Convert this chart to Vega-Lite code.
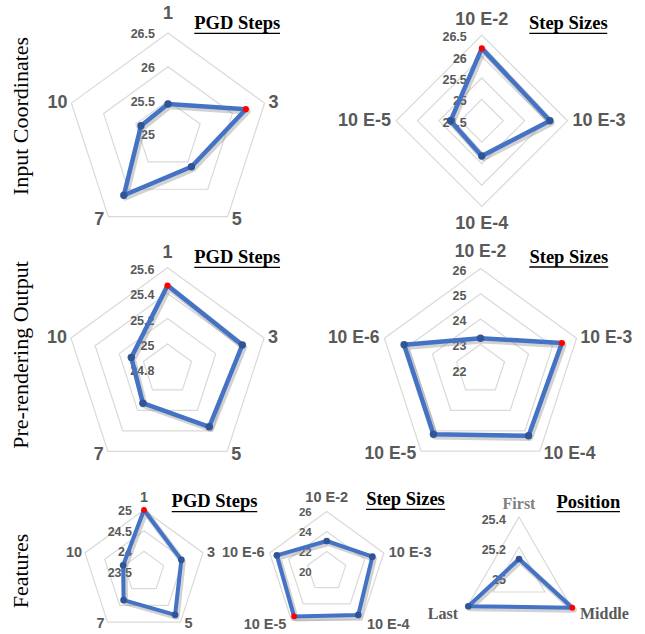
{
"$schema": "https://vega.github.io/schema/vega-lite/v6.json",
"padding": 0,
"background": "white",
"config": {"view": {"stroke": null}},
"columns": 3,
"spacing": {"row": 0, "column": 0},
"align": "each",
"bounds": "flush",
"datasets": {
 "radar": [
  {"chart": "ic_pgd", "axis": "1", "value": 25.45},
  {"chart": "ic_pgd", "axis": "3", "value": 26.21},
  {"chart": "ic_pgd", "axis": "5", "value": 25.59},
  {"chart": "ic_pgd", "axis": "7", "value": 26.11},
  {"chart": "ic_pgd", "axis": "10", "value": 25.42},
  {"chart": "ic_step", "axis": "10 E-2", "value": 26.19},
  {"chart": "ic_step", "axis": "10 E-3", "value": 26.09},
  {"chart": "ic_step", "axis": "10 E-4", "value": 25.32},
  {"chart": "ic_step", "axis": "10 E-5", "value": 25.23},
  {"chart": "pr_pgd", "axis": "1", "value": 25.46},
  {"chart": "pr_pgd", "axis": "3", "value": 25.42},
  {"chart": "pr_pgd", "axis": "5", "value": 25.36},
  {"chart": "pr_pgd", "axis": "7", "value": 25.13},
  {"chart": "pr_pgd", "axis": "10", "value": 25.10},
  {"chart": "pr_step", "axis": "10 E-2", "value": 23.24},
  {"chart": "pr_step", "axis": "10 E-3", "value": 25.39},
  {"chart": "pr_step", "axis": "10 E-4", "value": 25.24},
  {"chart": "pr_step", "axis": "10 E-5", "value": 25.17},
  {"chart": "pr_step", "axis": "10 E-6", "value": 25.18},
  {"chart": "ft_pgd", "axis": "1", "value": 25.0},
  {"chart": "ft_pgd", "axis": "3", "value": 24.45},
  {"chart": "ft_pgd", "axis": "5", "value": 24.78},
  {"chart": "ft_pgd", "axis": "7", "value": 24.34},
  {"chart": "ft_pgd", "axis": "10", "value": 24.03},
  {"chart": "ft_step", "axis": "10 E-2", "value": 23.05},
  {"chart": "ft_step", "axis": "10 E-3", "value": 24.8},
  {"chart": "ft_step", "axis": "10 E-4", "value": 25.37},
  {"chart": "ft_step", "axis": "10 E-5", "value": 25.55},
  {"chart": "ft_step", "axis": "10 E-6", "value": 25.24},
  {"chart": "ft_pos", "axis": "First", "value": 25.12},
  {"chart": "ft_pos", "axis": "Middle", "value": 25.41},
  {"chart": "ft_pos", "axis": "Last", "value": 25.39}
 ]
},
"concat": [
 {
  "width": 230, "height": 230,
  "data": {"name": "radar"},
  "transform": [
   {"filter": "datum.chart == 'ic_pgd'"},
   {"window": [{"op": "row_number", "as": "k"}]},
   {"joinaggregate": [{"op": "max", "field": "value", "as": "vmax"}]},
   {"calculate": "2*PI*(datum.k-1)/5", "as": "a"},
   {"calculate": "(datum.value-25)/1.5*sin(datum.a)", "as": "x"},
   {"calculate": "(datum.value-25)/1.5*cos(datum.a)", "as": "y"}
  ],
  "encoding": {
   "x": {"field": "x", "type": "quantitative", "axis": null, "scale": {"domain": [-1.6552, 0.6108], "nice": false, "zero": false}},
   "y": {"field": "y", "type": "quantitative", "axis": null, "scale": {"domain": [-0.9409, 1.3251], "nice": false, "zero": false}}
  },
  "layer": [
   {"transform": [{"calculate": "[25.5,26,26.5]", "as": "lv"}, {"flatten": ["lv"]}, {"calculate": "(datum.lv-25)/1.5*sin(datum.a)", "as": "x"}, {"calculate": "(datum.lv-25)/1.5*cos(datum.a)", "as": "y"}],
    "mark": {"type": "line", "interpolate": "linear-closed", "color": "#d9d9d9", "strokeWidth": 1.2},
    "encoding": {"detail": {"field": "lv", "type": "nominal"}, "order": {"field": "k", "type": "quantitative"}}},
   {"transform": [{"filter": "datum.k == 1"}, {"calculate": "[25,25.5,26,26.5]", "as": "t"}, {"flatten": ["t"]}, {"calculate": "0", "as": "x"}, {"calculate": "(datum.t-25)/1.5", "as": "y"}],
    "mark": {"type": "text", "align": "right", "baseline": "middle", "dx": -13, "dy": 1, "font": "Liberation Sans", "fontWeight": "bold", "fontSize": 12.5, "color": "#595959"},
    "encoding": {"text": {"field": "t", "type": "quantitative"}}},
   {"mark": {"type": "line", "interpolate": "linear-closed", "color": "#7f7f7f", "opacity": 0.35, "strokeWidth": 6.5, "xOffset": 1.5, "yOffset": 2, "strokeJoin": "round"},
    "encoding": {"order": {"field": "k", "type": "quantitative"}}},
   {"mark": {"type": "line", "interpolate": "linear-closed", "color": "#4472c4", "strokeWidth": 4.5, "strokeJoin": "round"},
    "encoding": {"order": {"field": "k", "type": "quantitative"}}},
   {"mark": {"type": "circle", "opacity": 1},
    "encoding": {"color": {"condition": {"test": "datum.value == datum.vmax", "value": "#ff0000"}, "value": "#2f5597"}, "size": {"condition": {"test": "datum.value == datum.vmax", "value": 38}, "value": 55}}},
   {"transform": [{"filter": "sin(datum.a) > 0.01"}, {"calculate": "sin(datum.a)", "as": "x"}, {"calculate": "cos(datum.a) - (cos(datum.a) < -0.1 ? 0.0296 : 0)", "as": "y"}],
    "mark": {"type": "text", "align": "left", "baseline": "middle", "dx": 4, "font": "Liberation Sans", "fontWeight": "bold", "fontSize": 18, "color": "#595959"},
    "encoding": {"text": {"field": "axis", "type": "nominal"}}},
   {"transform": [{"filter": "sin(datum.a) < -0.01"}, {"calculate": "sin(datum.a)", "as": "x"}, {"calculate": "cos(datum.a) - (cos(datum.a) < -0.1 ? 0.0296 : 0)", "as": "y"}],
    "mark": {"type": "text", "align": "right", "baseline": "middle", "dx": -4, "font": "Liberation Sans", "fontWeight": "bold", "fontSize": 18, "color": "#595959"},
    "encoding": {"text": {"field": "axis", "type": "nominal"}}},
   {"transform": [{"filter": "cos(datum.a) > 0.99"}, {"calculate": "0", "as": "x"}, {"calculate": "1", "as": "y"}],
    "mark": {"type": "text", "align": "center", "baseline": "alphabetic", "dy": -14, "font": "Liberation Sans", "fontWeight": "bold", "fontSize": 18, "color": "#595959"},
    "encoding": {"text": {"field": "axis", "type": "nominal"}}},
   {"transform": [{"filter": "datum.k == 1"}],
    "mark": {"type": "text", "text": "PGD Steps", "align": "center", "baseline": "alphabetic", "font": "Liberation Serif", "fontWeight": "bold", "fontSize": 18.5, "color": "#000000"},
    "encoding": {"x": {"datum": 0.682, "type": "quantitative"}, "y": {"datum": 1.036, "type": "quantitative"}}},
   {"transform": [{"filter": "datum.k == 1"}],
    "mark": {"type": "rule", "color": "#000000", "strokeWidth": 1.3},
    "encoding": {"x": {"datum": 0.259, "type": "quantitative"}, "x2": {"datum": 1.103}, "y": {"datum": 0.997, "type": "quantitative"}}},
   {"transform": [{"filter": "datum.k == 1"}],
    "mark": {"type": "text", "text": "Input Coordinates", "angle": 270, "align": "center", "baseline": "alphabetic", "font": "Liberation Serif", "fontSize": 22, "color": "#000000"},
    "encoding": {"x": {"datum": -1.379, "type": "quantitative"}, "y": {"datum": 0.182, "type": "quantitative"}}}
  ]
 },
 {
  "width": 190, "height": 230,
  "data": {"name": "radar"},
  "transform": [
   {"filter": "datum.chart == 'ic_step'"},
   {"window": [{"op": "row_number", "as": "k"}]},
   {"joinaggregate": [{"op": "max", "field": "value", "as": "vmax"}]},
   {"calculate": "2*PI*(datum.k-1)/4", "as": "a"},
   {"calculate": "(datum.value-24.5)/2*sin(datum.a)", "as": "x"},
   {"calculate": "(datum.value-24.5)/2*cos(datum.a)", "as": "y"}
  ],
  "encoding": {
   "x": {"field": "x", "type": "quantitative", "axis": null, "scale": {"domain": [-2.9382, -0.7211], "nice": false, "zero": false}},
   "y": {"field": "y", "type": "quantitative", "axis": null, "scale": {"domain": [-1.2742, 1.4096], "nice": false, "zero": false}}
  },
  "layer": [
   {"transform": [{"calculate": "[25,25.5,26,26.5]", "as": "lv"}, {"flatten": ["lv"]}, {"calculate": "(datum.lv-24.5)/2*sin(datum.a)", "as": "x"}, {"calculate": "(datum.lv-24.5)/2*cos(datum.a)", "as": "y"}],
    "mark": {"type": "line", "interpolate": "linear-closed", "color": "#d9d9d9", "strokeWidth": 1.2},
    "encoding": {"detail": {"field": "lv", "type": "nominal"}, "order": {"field": "k", "type": "quantitative"}}},
   {"transform": [{"filter": "datum.k == 1"}, {"calculate": "[24.5,25,25.5,26,26.5]", "as": "t"}, {"flatten": ["t"]}, {"calculate": "0", "as": "x"}, {"calculate": "(datum.t-24.5)/2", "as": "y"}],
    "mark": {"type": "text", "align": "right", "baseline": "middle", "dx": -15, "dy": 2, "font": "Liberation Sans", "fontWeight": "bold", "fontSize": 12.5, "color": "#595959"},
    "encoding": {"text": {"field": "t", "type": "quantitative"}}},
   {"mark": {"type": "line", "interpolate": "linear-closed", "color": "#7f7f7f", "opacity": 0.35, "strokeWidth": 6.5, "xOffset": 1.5, "yOffset": 2, "strokeJoin": "round"},
    "encoding": {"order": {"field": "k", "type": "quantitative"}}},
   {"mark": {"type": "line", "interpolate": "linear-closed", "color": "#4472c4", "strokeWidth": 4.5, "strokeJoin": "round"},
    "encoding": {"order": {"field": "k", "type": "quantitative"}}},
   {"mark": {"type": "circle", "opacity": 1},
    "encoding": {"color": {"condition": {"test": "datum.value == datum.vmax", "value": "#ff0000"}, "value": "#2f5597"}, "size": {"condition": {"test": "datum.value == datum.vmax", "value": 38}, "value": 55}}},
   {"transform": [{"filter": "sin(datum.a) > 0.01"}, {"calculate": "sin(datum.a)", "as": "x"}, {"calculate": "cos(datum.a)", "as": "y"}],
    "mark": {"type": "text", "align": "left", "baseline": "middle", "dx": 5, "font": "Liberation Sans", "fontWeight": "bold", "fontSize": 18, "color": "#595959"},
    "encoding": {"text": {"field": "axis", "type": "nominal"}}},
   {"transform": [{"filter": "sin(datum.a) < -0.01"}, {"calculate": "sin(datum.a)", "as": "x"}, {"calculate": "cos(datum.a)", "as": "y"}],
    "mark": {"type": "text", "align": "right", "baseline": "middle", "dx": -5, "font": "Liberation Sans", "fontWeight": "bold", "fontSize": 18, "color": "#595959"},
    "encoding": {"text": {"field": "axis", "type": "nominal"}}},
   {"transform": [{"filter": "cos(datum.a) > 0.99"}, {"calculate": "0", "as": "x"}, {"calculate": "1", "as": "y"}],
    "mark": {"type": "text", "align": "center", "baseline": "alphabetic", "dy": -10, "font": "Liberation Sans", "fontWeight": "bold", "fontSize": 18, "color": "#595959"},
    "encoding": {"text": {"field": "axis", "type": "nominal"}}},
   {"transform": [{"filter": "cos(datum.a) < -0.99"}, {"calculate": "0", "as": "x"}, {"calculate": "-1", "as": "y"}],
    "mark": {"type": "text", "align": "center", "baseline": "top", "dy": 8, "font": "Liberation Sans", "fontWeight": "bold", "fontSize": 18, "color": "#595959"},
    "encoding": {"text": {"field": "axis", "type": "nominal"}}},
   {"transform": [{"filter": "datum.k == 1"}],
    "mark": {"type": "text", "text": "Step Sizes", "align": "center", "baseline": "alphabetic", "font": "Liberation Serif", "fontWeight": "bold", "fontSize": 18.5, "color": "#000000"},
    "encoding": {"x": {"datum": 1.009, "type": "quantitative"}, "y": {"datum": 1.068, "type": "quantitative"}}},
   {"transform": [{"filter": "datum.k == 1"}],
    "mark": {"type": "rule", "color": "#000000", "strokeWidth": 1.3},
    "encoding": {"x": {"datum": 0.554, "type": "quantitative"}, "x2": {"datum": 1.464}, "y": {"datum": 1.021, "type": "quantitative"}}}
  ]
 },
 {"width": 225, "height": 230, "data": {"values": [{}]}, "mark": {"type": "point", "opacity": 0}},
 {
  "width": 230, "height": 230,
  "data": {"name": "radar"},
  "transform": [
   {"filter": "datum.chart == 'pr_pgd'"},
   {"window": [{"op": "row_number", "as": "k"}]},
   {"joinaggregate": [{"op": "max", "field": "value", "as": "vmax"}]},
   {"calculate": "2*PI*(datum.k-1)/5", "as": "a"},
   {"calculate": "(datum.value-24.8)/0.8*sin(datum.a)", "as": "x"},
   {"calculate": "(datum.value-24.8)/0.8*cos(datum.a)", "as": "y"}
  ],
  "encoding": {
   "x": {"field": "x", "type": "quantitative", "axis": null, "scale": {"domain": [-1.6502, 0.6158], "nice": false, "zero": false}},
   "y": {"field": "y", "type": "quantitative", "axis": null, "scale": {"domain": [-0.8936, 1.3724], "nice": false, "zero": false}}
  },
  "layer": [
   {"transform": [{"calculate": "[25,25.2,25.4,25.6]", "as": "lv"}, {"flatten": ["lv"]}, {"calculate": "(datum.lv-24.8)/0.8*sin(datum.a)", "as": "x"}, {"calculate": "(datum.lv-24.8)/0.8*cos(datum.a)", "as": "y"}],
    "mark": {"type": "line", "interpolate": "linear-closed", "color": "#d9d9d9", "strokeWidth": 1.2},
    "encoding": {"detail": {"field": "lv", "type": "nominal"}, "order": {"field": "k", "type": "quantitative"}}},
   {"transform": [{"filter": "datum.k == 1"}, {"calculate": "[24.8,25,25.2,25.4,25.6]", "as": "t"}, {"flatten": ["t"]}, {"calculate": "0", "as": "x"}, {"calculate": "(datum.t-24.8)/0.8", "as": "y"}],
    "mark": {"type": "text", "align": "right", "baseline": "middle", "dx": -13, "dy": 2, "font": "Liberation Sans", "fontWeight": "bold", "fontSize": 12.5, "color": "#595959"},
    "encoding": {"text": {"field": "t", "type": "quantitative"}}},
   {"mark": {"type": "line", "interpolate": "linear-closed", "color": "#7f7f7f", "opacity": 0.35, "strokeWidth": 6.5, "xOffset": 1.5, "yOffset": 2, "strokeJoin": "round"},
    "encoding": {"order": {"field": "k", "type": "quantitative"}}},
   {"mark": {"type": "line", "interpolate": "linear-closed", "color": "#4472c4", "strokeWidth": 4.5, "strokeJoin": "round"},
    "encoding": {"order": {"field": "k", "type": "quantitative"}}},
   {"mark": {"type": "circle", "opacity": 1},
    "encoding": {"color": {"condition": {"test": "datum.value == datum.vmax", "value": "#ff0000"}, "value": "#2f5597"}, "size": {"condition": {"test": "datum.value == datum.vmax", "value": 38}, "value": 55}}},
   {"transform": [{"filter": "sin(datum.a) > 0.01"}, {"calculate": "sin(datum.a)", "as": "x"}, {"calculate": "cos(datum.a) - (cos(datum.a) < -0.1 ? 0.0355 : 0)", "as": "y"}],
    "mark": {"type": "text", "align": "left", "baseline": "middle", "dx": 4, "font": "Liberation Sans", "fontWeight": "bold", "fontSize": 18, "color": "#595959"},
    "encoding": {"text": {"field": "axis", "type": "nominal"}}},
   {"transform": [{"filter": "sin(datum.a) < -0.01"}, {"calculate": "sin(datum.a)", "as": "x"}, {"calculate": "cos(datum.a) - (cos(datum.a) < -0.1 ? 0.0355 : 0)", "as": "y"}],
    "mark": {"type": "text", "align": "right", "baseline": "middle", "dx": -4, "font": "Liberation Sans", "fontWeight": "bold", "fontSize": 18, "color": "#595959"},
    "encoding": {"text": {"field": "axis", "type": "nominal"}}},
   {"transform": [{"filter": "cos(datum.a) > 0.99"}, {"calculate": "0", "as": "x"}, {"calculate": "1", "as": "y"}],
    "mark": {"type": "text", "align": "center", "baseline": "alphabetic", "dy": -9.5, "font": "Liberation Sans", "fontWeight": "bold", "fontSize": 18, "color": "#595959"},
    "encoding": {"text": {"field": "axis", "type": "nominal"}}},
   {"transform": [{"filter": "datum.k == 1"}],
    "mark": {"type": "text", "text": "PGD Steps", "align": "center", "baseline": "alphabetic", "font": "Liberation Serif", "fontWeight": "bold", "fontSize": 18.5, "color": "#000000"},
    "encoding": {"x": {"datum": 0.687, "type": "quantitative"}, "y": {"datum": 1.044, "type": "quantitative"}}},
   {"transform": [{"filter": "datum.k == 1"}],
    "mark": {"type": "rule", "color": "#000000", "strokeWidth": 1.3},
    "encoding": {"x": {"datum": 0.264, "type": "quantitative"}, "x2": {"datum": 1.108}, "y": {"datum": 1.005, "type": "quantitative"}}},
   {"transform": [{"filter": "datum.k == 1"}],
    "mark": {"type": "text", "text": "Pre-rendering Output", "angle": 270, "align": "center", "baseline": "alphabetic", "font": "Liberation Serif", "fontSize": 22, "color": "#000000"},
    "encoding": {"x": {"datum": -1.374, "type": "quantitative"}, "y": {"datum": 0.141, "type": "quantitative"}}}
  ]
 },
 {
  "width": 190, "height": 230,
  "data": {"name": "radar"},
  "transform": [
   {"filter": "datum.chart == 'pr_step'"},
   {"window": [{"op": "row_number", "as": "k"}]},
   {"joinaggregate": [{"op": "max", "field": "value", "as": "vmax"}]},
   {"calculate": "2*PI*(datum.k-1)/5", "as": "a"},
   {"calculate": "(datum.value-22)/4*sin(datum.a)", "as": "x"},
   {"calculate": "(datum.value-22)/4*cos(datum.a)", "as": "y"}
  ],
  "encoding": {
   "x": {"field": "x", "type": "quantitative", "axis": null, "scale": {"domain": [-2.4802, -0.599], "nice": false, "zero": false}},
   "y": {"field": "y", "type": "quantitative", "axis": null, "scale": {"domain": [-0.896, 1.3812], "nice": false, "zero": false}}
  },
  "layer": [
   {"transform": [{"calculate": "[23,24,25,26]", "as": "lv"}, {"flatten": ["lv"]}, {"calculate": "(datum.lv-22)/4*sin(datum.a)", "as": "x"}, {"calculate": "(datum.lv-22)/4*cos(datum.a)", "as": "y"}],
    "mark": {"type": "line", "interpolate": "linear-closed", "color": "#d9d9d9", "strokeWidth": 1.2},
    "encoding": {"detail": {"field": "lv", "type": "nominal"}, "order": {"field": "k", "type": "quantitative"}}},
   {"transform": [{"filter": "datum.k == 1"}, {"calculate": "[22,23,24,25,26]", "as": "t"}, {"flatten": ["t"]}, {"calculate": "0", "as": "x"}, {"calculate": "(datum.t-22)/4", "as": "y"}],
    "mark": {"type": "text", "align": "right", "baseline": "middle", "dx": -14, "dy": 2, "font": "Liberation Sans", "fontWeight": "bold", "fontSize": 12.5, "color": "#595959"},
    "encoding": {"text": {"field": "t", "type": "quantitative"}}},
   {"mark": {"type": "line", "interpolate": "linear-closed", "color": "#7f7f7f", "opacity": 0.35, "strokeWidth": 6.5, "xOffset": 1.5, "yOffset": 2, "strokeJoin": "round"},
    "encoding": {"order": {"field": "k", "type": "quantitative"}}},
   {"mark": {"type": "line", "interpolate": "linear-closed", "color": "#4472c4", "strokeWidth": 4.5, "strokeJoin": "round"},
    "encoding": {"order": {"field": "k", "type": "quantitative"}}},
   {"mark": {"type": "circle", "opacity": 1},
    "encoding": {"color": {"condition": {"test": "datum.value == datum.vmax", "value": "#ff0000"}, "value": "#2f5597"}, "size": {"condition": {"test": "datum.value == datum.vmax", "value": 38}, "value": 55}}},
   {"transform": [{"filter": "sin(datum.a) > 0.01"}, {"calculate": "sin(datum.a)", "as": "x"}, {"calculate": "cos(datum.a) - (cos(datum.a) < -0.1 ? 0.0297 : 0)", "as": "y"}],
    "mark": {"type": "text", "align": "left", "baseline": "middle", "dx": 4, "font": "Liberation Sans", "fontWeight": "bold", "fontSize": 17.5, "color": "#595959"},
    "encoding": {"text": {"field": "axis", "type": "nominal"}}},
   {"transform": [{"filter": "sin(datum.a) < -0.01"}, {"calculate": "sin(datum.a)", "as": "x"}, {"calculate": "cos(datum.a) - (cos(datum.a) < -0.1 ? 0.0297 : 0)", "as": "y"}],
    "mark": {"type": "text", "align": "right", "baseline": "middle", "dx": -5, "font": "Liberation Sans", "fontWeight": "bold", "fontSize": 17.5, "color": "#595959"},
    "encoding": {"text": {"field": "axis", "type": "nominal"}}},
   {"transform": [{"filter": "cos(datum.a) > 0.99"}, {"calculate": "0", "as": "x"}, {"calculate": "1", "as": "y"}],
    "mark": {"type": "text", "align": "center", "baseline": "alphabetic", "dy": -12, "font": "Liberation Sans", "fontWeight": "bold", "fontSize": 17.5, "color": "#595959"},
    "encoding": {"text": {"field": "axis", "type": "nominal"}}},
   {"transform": [{"filter": "datum.k == 1"}],
    "mark": {"type": "text", "text": "Step Sizes", "align": "center", "baseline": "alphabetic", "font": "Liberation Serif", "fontWeight": "bold", "fontSize": 18.5, "color": "#000000"},
    "encoding": {"x": {"datum": 0.874, "type": "quantitative"}, "y": {"datum": 1.051, "type": "quantitative"}}},
   {"transform": [{"filter": "datum.k == 1"}],
    "mark": {"type": "rule", "color": "#000000", "strokeWidth": 1.3},
    "encoding": {"x": {"datum": 0.483, "type": "quantitative"}, "x2": {"datum": 1.265}, "y": {"datum": 1.015, "type": "quantitative"}}}
  ]
 },
 {"width": 225, "height": 230, "data": {"values": [{}]}, "mark": {"type": "point", "opacity": 0}},
 {
  "width": 230, "height": 174,
  "data": {"name": "radar"},
  "transform": [
   {"filter": "datum.chart == 'ft_pgd'"},
   {"window": [{"op": "row_number", "as": "k"}]},
   {"joinaggregate": [{"op": "max", "field": "value", "as": "vmax"}]},
   {"calculate": "2*PI*(datum.k-1)/5", "as": "a"},
   {"calculate": "(datum.value-23.5)/1.5*sin(datum.a)", "as": "x"},
   {"calculate": "(datum.value-23.5)/1.5*cos(datum.a)", "as": "y"}
  ],
  "encoding": {
   "x": {"field": "x", "type": "quantitative", "axis": null, "scale": {"domain": [-2.3226, 1.3871], "nice": false, "zero": false}},
   "y": {"field": "y", "type": "quantitative", "axis": null, "scale": {"domain": [-1.0, 1.8065], "nice": false, "zero": false}}
  },
  "layer": [
   {"transform": [{"calculate": "[24,24.5,25]", "as": "lv"}, {"flatten": ["lv"]}, {"calculate": "(datum.lv-23.5)/1.5*sin(datum.a)", "as": "x"}, {"calculate": "(datum.lv-23.5)/1.5*cos(datum.a)", "as": "y"}],
    "mark": {"type": "line", "interpolate": "linear-closed", "color": "#d9d9d9", "strokeWidth": 1.2},
    "encoding": {"detail": {"field": "lv", "type": "nominal"}, "order": {"field": "k", "type": "quantitative"}}},
   {"transform": [{"filter": "datum.k == 1"}, {"calculate": "[23.5,24,24.5,25]", "as": "t"}, {"flatten": ["t"]}, {"calculate": "0", "as": "x"}, {"calculate": "(datum.t-23.5)/1.5", "as": "y"}],
    "mark": {"type": "text", "align": "right", "baseline": "middle", "dx": -12, "dy": 1, "font": "Liberation Sans", "fontWeight": "bold", "fontSize": 12.5, "color": "#595959"},
    "encoding": {"text": {"field": "t", "type": "quantitative"}}},
   {"mark": {"type": "line", "interpolate": "linear-closed", "color": "#7f7f7f", "opacity": 0.35, "strokeWidth": 6, "xOffset": 1.5, "yOffset": 2, "strokeJoin": "round"},
    "encoding": {"order": {"field": "k", "type": "quantitative"}}},
   {"mark": {"type": "line", "interpolate": "linear-closed", "color": "#4472c4", "strokeWidth": 4, "strokeJoin": "round"},
    "encoding": {"order": {"field": "k", "type": "quantitative"}}},
   {"mark": {"type": "circle", "opacity": 1},
    "encoding": {"color": {"condition": {"test": "datum.value == datum.vmax", "value": "#ff0000"}, "value": "#2f5597"}, "size": {"condition": {"test": "datum.value == datum.vmax", "value": 34}, "value": 45}}},
   {"transform": [{"filter": "sin(datum.a) > 0.01"}, {"calculate": "sin(datum.a)", "as": "x"}, {"calculate": "cos(datum.a) - (cos(datum.a) < -0.1 ? 0.032 : 0)", "as": "y"}],
    "mark": {"type": "text", "align": "left", "baseline": "middle", "dx": 4, "font": "Liberation Sans", "fontWeight": "bold", "fontSize": 14.5, "color": "#595959"},
    "encoding": {"text": {"field": "axis", "type": "nominal"}}},
   {"transform": [{"filter": "sin(datum.a) < -0.01"}, {"calculate": "sin(datum.a)", "as": "x"}, {"calculate": "cos(datum.a) - (cos(datum.a) < -0.1 ? 0.032 : 0)", "as": "y"}],
    "mark": {"type": "text", "align": "right", "baseline": "middle", "dx": -3, "font": "Liberation Sans", "fontWeight": "bold", "fontSize": 14.5, "color": "#595959"},
    "encoding": {"text": {"field": "axis", "type": "nominal"}}},
   {"transform": [{"filter": "cos(datum.a) > 0.99"}, {"calculate": "0", "as": "x"}, {"calculate": "1", "as": "y"}],
    "mark": {"type": "text", "align": "center", "baseline": "alphabetic", "dy": -8, "font": "Liberation Sans", "fontWeight": "bold", "fontSize": 14.5, "color": "#595959"},
    "encoding": {"text": {"field": "axis", "type": "nominal"}}},
   {"transform": [{"filter": "datum.k == 1"}],
    "mark": {"type": "text", "text": "PGD Steps", "align": "center", "baseline": "alphabetic", "font": "Liberation Serif", "fontWeight": "bold", "fontSize": 18.5, "color": "#000000"},
    "encoding": {"x": {"datum": 1.137, "type": "quantitative"}, "y": {"datum": 1.044, "type": "quantitative"}}},
   {"transform": [{"filter": "datum.k == 1"}],
    "mark": {"type": "rule", "color": "#000000", "strokeWidth": 1.3},
    "encoding": {"x": {"datum": 0.447, "type": "quantitative"}, "x2": {"datum": 1.827}, "y": {"datum": 0.973, "type": "quantitative"}}},
   {"transform": [{"filter": "datum.k == 1"}],
    "mark": {"type": "text", "text": "Features", "angle": 270, "align": "center", "baseline": "alphabetic", "font": "Liberation Serif", "fontSize": 22, "color": "#000000"},
    "encoding": {"x": {"datum": -1.871, "type": "quantitative"}, "y": {"datum": 0.016, "type": "quantitative"}}}
  ]
 },
 {
  "width": 190, "height": 174,
  "data": {"name": "radar"},
  "transform": [
   {"filter": "datum.chart == 'ft_step'"},
   {"window": [{"op": "row_number", "as": "k"}]},
   {"joinaggregate": [{"op": "max", "field": "value", "as": "vmax"}]},
   {"calculate": "2*PI*(datum.k-1)/5", "as": "a"},
   {"calculate": "(datum.value-20)/6*sin(datum.a)", "as": "x"},
   {"calculate": "(datum.value-20)/6*cos(datum.a)", "as": "y"}
  ],
  "encoding": {
   "x": {"field": "x", "type": "quantitative", "axis": null, "scale": {"domain": [-1.6117, 1.555], "nice": false, "zero": false}},
   "y": {"field": "y", "type": "quantitative", "axis": null, "scale": {"domain": [-1.0417, 1.8583], "nice": false, "zero": false}}
  },
  "layer": [
   {"transform": [{"calculate": "[22,24,26]", "as": "lv"}, {"flatten": ["lv"]}, {"calculate": "(datum.lv-20)/6*sin(datum.a)", "as": "x"}, {"calculate": "(datum.lv-20)/6*cos(datum.a)", "as": "y"}],
    "mark": {"type": "line", "interpolate": "linear-closed", "color": "#d9d9d9", "strokeWidth": 1.2},
    "encoding": {"detail": {"field": "lv", "type": "nominal"}, "order": {"field": "k", "type": "quantitative"}}},
   {"transform": [{"filter": "datum.k == 1"}, {"calculate": "[20,22,24,26]", "as": "t"}, {"flatten": ["t"]}, {"calculate": "0", "as": "x"}, {"calculate": "(datum.t-20)/6", "as": "y"}],
    "mark": {"type": "text", "align": "right", "baseline": "middle", "dx": -15, "dy": 2, "font": "Liberation Sans", "fontWeight": "bold", "fontSize": 11.5, "color": "#595959"},
    "encoding": {"text": {"field": "t", "type": "quantitative"}}},
   {"mark": {"type": "line", "interpolate": "linear-closed", "color": "#7f7f7f", "opacity": 0.35, "strokeWidth": 6, "xOffset": 1.5, "yOffset": 2, "strokeJoin": "round"},
    "encoding": {"order": {"field": "k", "type": "quantitative"}}},
   {"mark": {"type": "line", "interpolate": "linear-closed", "color": "#4472c4", "strokeWidth": 4, "strokeJoin": "round"},
    "encoding": {"order": {"field": "k", "type": "quantitative"}}},
   {"mark": {"type": "circle", "opacity": 1},
    "encoding": {"color": {"condition": {"test": "datum.value == datum.vmax", "value": "#ff0000"}, "value": "#2f5597"}, "size": {"condition": {"test": "datum.value == datum.vmax", "value": 34}, "value": 45}}},
   {"transform": [{"filter": "sin(datum.a) > 0.01"}, {"calculate": "sin(datum.a)", "as": "x"}, {"calculate": "cos(datum.a) - (cos(datum.a) < -0.1 ? 0.083 : 0)", "as": "y"}],
    "mark": {"type": "text", "align": "left", "baseline": "middle", "dx": 5, "font": "Liberation Sans", "fontWeight": "bold", "fontSize": 14.5, "color": "#595959"},
    "encoding": {"text": {"field": "axis", "type": "nominal"}}},
   {"transform": [{"filter": "sin(datum.a) < -0.01"}, {"calculate": "sin(datum.a)", "as": "x"}, {"calculate": "cos(datum.a) - (cos(datum.a) < -0.1 ? 0.083 : 0)", "as": "y"}],
    "mark": {"type": "text", "align": "right", "baseline": "middle", "dx": -5, "font": "Liberation Sans", "fontWeight": "bold", "fontSize": 14.5, "color": "#595959"},
    "encoding": {"text": {"field": "axis", "type": "nominal"}}},
   {"transform": [{"filter": "cos(datum.a) > 0.99"}, {"calculate": "0", "as": "x"}, {"calculate": "1", "as": "y"}],
    "mark": {"type": "text", "align": "center", "baseline": "alphabetic", "dy": -9, "font": "Liberation Sans", "fontWeight": "bold", "fontSize": 14.5, "color": "#595959"},
    "encoding": {"text": {"field": "axis", "type": "nominal"}}},
   {"transform": [{"filter": "datum.k == 1"}],
    "mark": {"type": "text", "text": "Step Sizes", "align": "center", "baseline": "alphabetic", "font": "Liberation Serif", "fontWeight": "bold", "fontSize": 18.5, "color": "#000000"},
    "encoding": {"x": {"datum": 1.313, "type": "quantitative"}, "y": {"datum": 1.108, "type": "quantitative"}}},
   {"transform": [{"filter": "datum.k == 1"}],
    "mark": {"type": "rule", "color": "#000000", "strokeWidth": 1.3},
    "encoding": {"x": {"datum": 0.655, "type": "quantitative"}, "x2": {"datum": 1.972}, "y": {"datum": 1.037, "type": "quantitative"}}}
  ]
 },
 {
  "width": 225, "height": 174,
  "data": {"name": "radar"},
  "transform": [
   {"filter": "datum.chart == 'ft_pos'"},
   {"window": [{"op": "row_number", "as": "k"}]},
   {"joinaggregate": [{"op": "max", "field": "value", "as": "vmax"}]},
   {"calculate": "2*PI*(datum.k-1)/3", "as": "a"},
   {"calculate": "(datum.value-25)/0.4*sin(datum.a)", "as": "x"},
   {"calculate": "(datum.value-25)/0.4*cos(datum.a)", "as": "y"}
  ],
  "encoding": {
   "x": {"field": "x", "type": "quantitative", "axis": null, "scale": {"domain": [-1.65, 2.1], "nice": false, "zero": false}},
   "y": {"field": "y", "type": "quantitative", "axis": null, "scale": {"domain": [-0.95, 1.95], "nice": false, "zero": false}}
  },
  "layer": [
   {"transform": [{"calculate": "[25.2,25.4]", "as": "lv"}, {"flatten": ["lv"]}, {"calculate": "(datum.lv-25)/0.4*sin(datum.a)", "as": "x"}, {"calculate": "(datum.lv-25)/0.4*cos(datum.a)", "as": "y"}],
    "mark": {"type": "line", "interpolate": "linear-closed", "color": "#d9d9d9", "strokeWidth": 1.2},
    "encoding": {"detail": {"field": "lv", "type": "nominal"}, "order": {"field": "k", "type": "quantitative"}}},
   {"transform": [{"filter": "datum.k == 1"}, {"calculate": "[25,25.2,25.4]", "as": "t"}, {"flatten": ["t"]}, {"calculate": "0", "as": "x"}, {"calculate": "(datum.t-25)/0.4", "as": "y"}],
    "mark": {"type": "text", "align": "right", "baseline": "middle", "dx": -13, "dy": 3, "font": "Liberation Sans", "fontWeight": "bold", "fontSize": 12.5, "color": "#595959"},
    "encoding": {"text": {"field": "t", "type": "quantitative"}}},
   {"mark": {"type": "line", "interpolate": "linear-closed", "color": "#7f7f7f", "opacity": 0.35, "strokeWidth": 6, "xOffset": 1.5, "yOffset": 2, "strokeJoin": "round"},
    "encoding": {"order": {"field": "k", "type": "quantitative"}}},
   {"mark": {"type": "line", "interpolate": "linear-closed", "color": "#4472c4", "strokeWidth": 4, "strokeJoin": "round"},
    "encoding": {"order": {"field": "k", "type": "quantitative"}}},
   {"mark": {"type": "circle", "opacity": 1},
    "encoding": {"color": {"condition": {"test": "datum.value == datum.vmax", "value": "#ff0000"}, "value": "#2f5597"}, "size": {"condition": {"test": "datum.value == datum.vmax", "value": 34}, "value": 45}}},
   {"transform": [{"filter": "sin(datum.a) > 0.01"}, {"calculate": "sin(datum.a)", "as": "x"}, {"calculate": "cos(datum.a) - 0.117", "as": "y"}],
    "mark": {"type": "text", "align": "left", "baseline": "middle", "dx": 9, "font": "Liberation Serif", "fontWeight": "bold", "fontSize": 16, "color": "#595959"},
    "encoding": {"text": {"field": "axis", "type": "nominal"}}},
   {"transform": [{"filter": "sin(datum.a) < -0.01"}, {"calculate": "sin(datum.a)", "as": "x"}, {"calculate": "cos(datum.a) - 0.117", "as": "y"}],
    "mark": {"type": "text", "align": "right", "baseline": "middle", "dx": -9, "font": "Liberation Serif", "fontWeight": "bold", "fontSize": 16, "color": "#595959"},
    "encoding": {"text": {"field": "axis", "type": "nominal"}}},
   {"transform": [{"filter": "cos(datum.a) > 0.99"}, {"calculate": "0", "as": "x"}, {"calculate": "1", "as": "y"}],
    "mark": {"type": "text", "align": "center", "baseline": "alphabetic", "dy": -8, "font": "Liberation Serif", "fontWeight": "bold", "fontSize": 16, "color": "#808080"},
    "encoding": {"text": {"field": "axis", "type": "nominal"}}},
   {"transform": [{"filter": "datum.k == 1"}],
    "mark": {"type": "text", "text": "Position", "align": "center", "baseline": "alphabetic", "font": "Liberation Serif", "fontWeight": "bold", "fontSize": 18.5, "color": "#000000"},
    "encoding": {"x": {"datum": 1.155, "type": "quantitative"}, "y": {"datum": 1.145, "type": "quantitative"}}},
   {"transform": [{"filter": "datum.k == 1"}],
    "mark": {"type": "rule", "color": "#000000", "strokeWidth": 1.3},
    "encoding": {"x": {"datum": 0.628, "type": "quantitative"}, "x2": {"datum": 1.683}, "y": {"datum": 1.088, "type": "quantitative"}}}
  ]
 }
]
}
